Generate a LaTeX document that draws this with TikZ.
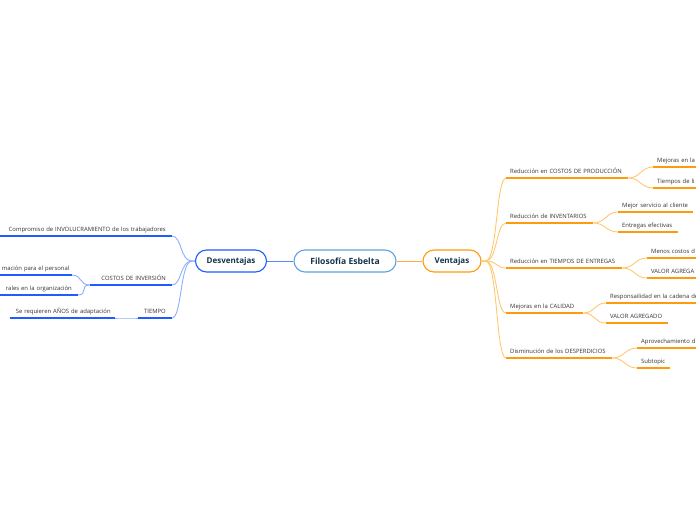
\documentclass[tikz,border=0pt]{standalone}
\usepackage{fontspec}
\setmainfont{Open Sans}
\usetikzlibrary{positioning}
\definecolor{rootblue}{HTML}{5FA3E0}
\definecolor{deepblue}{HTML}{1F5CFF}
\definecolor{paleblue}{HTML}{8CAEFF}
\definecolor{deeporange}{HTML}{FF9A0D}
\definecolor{paleorange}{HTML}{FFC870}
\definecolor{navytext}{HTML}{13334C}
\definecolor{greytext}{HTML}{333333}
\tikzset{
  mainbox/.style={draw, line width=1.1pt, rounded corners=11pt, minimum height=22pt,
    fill=white, inner sep=0pt, text=navytext, font=\fontsize{8}{10}\selectfont\bfseries},
  rtopic/.style={anchor=south west, inner xsep=4pt, inner ysep=3pt, text depth=1pt,
    align=left, text=greytext, font=\fontsize{5.9}{7}\selectfont},
  ltopic/.style={anchor=south east, inner xsep=6pt, inner ysep=3pt, text depth=1pt,
    align=right, text=greytext, font=\fontsize{5.9}{7}\selectfont},
  ocurve/.style={draw=paleorange, line width=0.9pt},
  bcurve/.style={draw=paleblue, line width=0.9pt},
  oline/.style={draw=deeporange, line width=1.6pt},
  bline/.style={draw=deepblue, line width=1.6pt}
}
\begin{document}
\begin{tikzpicture}[x=1pt, y=-1pt]
  \useasboundingbox (0,0) rectangle (696,520);
  \clip (0,0) rectangle (696,520);
  % central topics
  \node[mainbox, draw=rootblue, minimum width=102pt, font=\fontsize{8.6}{10}\selectfont\bfseries] (root) at (345,261) {Filosofía Esbelta};
  \node[mainbox, draw=deepblue, minimum width=71pt] (desv) at (231,261) {Desventajas};
  \node[mainbox, draw=deeporange, minimum width=58pt] (vent) at (452,261) {Ventajas};
  \draw[draw=deepblue!75, line width=1pt] (root) -- (desv);
  \draw[draw=deeporange!80, line width=1pt] (root) -- (vent);

  % Ventajas
  \node[rtopic, text width=114pt] (cp) at (506,178) {\mbox{Reducción en COSTOS DE PRODUCCIÓN}};
  \node[rtopic, text width=79pt] (inv) at (506,223) {\mbox{Reducción de INVENTARIOS}};
  \node[rtopic, text width=108pt] (te) at (506,268) {\mbox{Reducción en TIEMPOS DE ENTREGAS}};
  \node[rtopic, text width=69pt] (cal) at (506,313) {\mbox{Mejoras en la CALIDAD}};
  \node[rtopic, text width=98pt] (des) at (506,358) {\mbox{Disminución de los DESPERDICIOS}};
  \node[rtopic, text width=40pt] (cp1) at (653,167) {\mbox{Mejoras en la}};
  \node[rtopic, text width=40pt] (cp2) at (653,188) {\mbox{Tiempos de li}};
  \node[rtopic, text width=67pt] (inv1) at (618,212) {\mbox{Mejor servicio al cliente}};
  \node[rtopic, text width=52pt] (inv2) at (618,232) {\mbox{Entregas efectivas}};
  \node[rtopic, text width=46pt] (te1) at (647,258) {\mbox{Menos costos d}};
  \node[rtopic, text width=46pt] (te2) at (647,278) {\mbox{VALOR AGREGA}};
  \node[rtopic, text width=86pt] (cal1) at (606,303) {\mbox{Responsailidad en la cadena de}};
  \node[rtopic, text width=54pt] (cal2) at (606,323) {\mbox{VALOR AGREGADO}};
  \node[rtopic, text width=56pt] (des1) at (637,348) {\mbox{Aprovechamiento d}};
  \node[rtopic, text width=25pt] (des2) at (637,368) {\mbox{Subtopic}};

  \foreach \t in {cp,inv,te,cal,des}
    \draw[ocurve] (vent.east) -- ++(4,0) .. controls +(12,0) and +(-10,0) .. (\t.south west);
  \foreach \p/\t in {cp/cp1,cp/cp2,inv/inv1,inv/inv2,te/te1,te/te2,cal/cal1,cal/cal2,des/des1,des/des2}
    \draw[ocurve] (\p.south east) .. controls +(12,0) and +(-12,0) .. (\t.south west);
  \foreach \t in {cp,inv,te,cal,des,cp1,cp2,inv1,inv2,te1,te2,cal1,cal2,des1,des2}
    \draw[oline] (\t.south west) -- (\t.south east);

  % Desventajas
  \node[ltopic, text width=160pt] (inv0) at (172,236) {\mbox{Compromiso de INVOLUCRAMIENTO de los trabajadores}};
  \node[ltopic, text width=70pt] (cin) at (172,285) {\mbox{COSTOS DE INVERSIÓN}};
  \node[ltopic, text width=22pt] (tie) at (172,318) {\mbox{TIEMPO}};
  \node[ltopic, text width=64pt] (cin1) at (72,275) {\mbox{mación para el personal}};
  \node[ltopic, text width=70pt] (cin2) at (78,295) {\mbox{rales en la organización}};
  \node[ltopic, text width=93pt] (tie1) at (115,318) {\mbox{Se requieren AÑOS de adaptación}};

  \foreach \t in {inv0,cin,tie}
    \draw[bcurve] (desv.west) -- ++(-3,0) .. controls +(-12,0) and +(10,0) .. (\t.south east);
  \foreach \p/\t in {cin/cin1,cin/cin2,tie/tie1}
    \draw[bcurve] (\p.south west) .. controls +(-10,0) and +(10,0) .. (\t.south east);
  \foreach \t in {inv0,cin,tie,cin1,cin2,tie1}
    \draw[bline] (\t.south west) -- (\t.south east);
\end{tikzpicture}
\end{document}
